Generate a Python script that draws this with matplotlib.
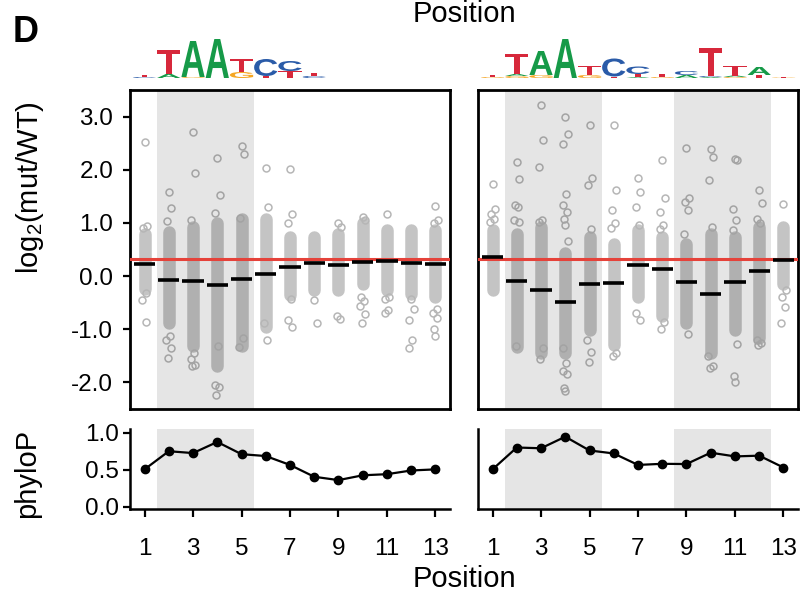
"""Mutation effect per position (top) with conservation (phyloP, bottom) for two motifs."""

import matplotlib
matplotlib.use("Agg")
from matplotlib import pyplot as plt
from matplotlib.font_manager import FontProperties
from matplotlib.patches import PathPatch
from matplotlib.textpath import TextPath
from matplotlib.transforms import Affine2D

# ---- data ---------------------------------------------------------------------
POSITIONS = list(range(1, 14))
XTICKS = [1, 3, 5, 7, 9, 11, 13]
RED_LINE = 0.33

# medians (black bars) of log2(mut/WT)
MED_L = [0.23, -0.08, -0.10, -0.16, -0.06, 0.04, 0.17, 0.24, 0.20, 0.26, 0.29, 0.24, 0.22]
MED_R = [0.36, -0.09, -0.26, -0.49, -0.14, -0.13, 0.21, 0.13, -0.11, -0.33, -0.12, 0.10, 0.30]

# dense part of each point cloud (low, high)
CORE_L = [(-0.25, 0.80), (-0.89, 0.83), (-1.32, 0.93), (-1.70, 0.99), (-1.32, 1.08),
          (-0.95, 1.08), (-0.36, 0.74), (-0.26, 0.74), (-0.26, 0.80), (-0.14, 0.99),
          (-0.26, 0.86), (-0.33, 0.86), (-0.39, 0.86)]
CORE_R = [(-0.26, 0.86), (-1.33, 0.80), (-1.45, 0.93), (-1.45, 0.43), (-1.01, 0.74),
          (-1.30, 0.61), (-0.39, 0.86), (-0.76, 0.74), (-0.89, 0.61), (-1.45, 0.80),
          (-1.01, 0.74), (-1.17, 0.93), (-0.14, 0.93)]

# single points outside the dense part
OUT_L = [
    [2.52, 0.95, 0.90, -0.32, -0.45, -0.86],
    [1.58, 1.28, 1.04, -1.12, -1.21, -1.36, -1.55],
    [2.71, 1.93, 1.05, -1.45, -1.56, -1.67, -1.70],
    [2.23, 1.53, 1.19, -1.32, -2.04, -2.08, -2.23],
    [2.44, 2.29, 1.09, -1.17, -1.34],
    [2.04, 1.30, -0.89, -1.21],
    [2.01, 1.16, 1.00, -0.44, -0.83, -0.96],
    [-0.45, -0.88],
    [0.99, 0.93, -0.76, -0.80],
    [1.11, 1.05, -0.40, -0.46, -0.56, -0.71, -0.88],
    [1.16, -0.39, -0.44, -0.64, -0.69],
    [-0.44, -0.61, -0.83, -1.21, -1.36],
    [1.31, 1.05, 1.00, -0.61, -0.69, -0.79, -1.00, -1.12],
]
OUT_R = [
    [1.74, 1.27, 1.16, 1.08, 1.02],
    [2.14, 1.82, 1.33, 1.30, 1.05, 1.02, -1.31],
    [3.22, 2.56, 2.06, 1.05, 1.02, -1.36, -1.56],
    [2.99, 2.68, 2.49, 1.55, 1.33, 1.21, 1.08, 0.96, 0.66, -1.36, -1.64, -1.79, -1.84, -2.11, -2.17],
    [2.85, 1.85, 1.71, 0.88, -1.20, -1.42, -1.61],
    [2.84, 1.61, 1.24, 1.00, 0.91, -1.45, -1.51],
    [1.84, 1.58, 1.29, 0.96, -0.70, -0.83],
    [2.18, 1.46, 1.21, 0.96, 0.88, -0.86, -1.00],
    [2.41, 1.46, 1.39, 1.25, 0.79, -1.08],
    [2.39, 2.24, 1.80, 0.93, -1.51, -1.70, -1.73],
    [2.21, 2.19, 1.27, 1.05, 0.86, -1.28, -1.88, -2.00],
    [1.61, 1.38, 1.08, 0.99, -1.20, -1.25, -1.30],
    [1.36, -0.26, -0.40, -0.59, -0.89],
]

PHYLO_L = [0.505, 0.75, 0.725, 0.875, 0.71, 0.685, 0.565, 0.405, 0.36, 0.425, 0.44, 0.49, 0.505]
PHYLO_R = [0.505, 0.80, 0.79, 0.946, 0.76, 0.72, 0.565, 0.58, 0.577, 0.73, 0.68, 0.69, 0.53]

SHADE_L = [(1.5, 5.5)]
SHADE_R = [(1.5, 5.5), (8.5, 12.5)]

# sequence logos: per position, letters stacked bottom -> top with their heights
LOGO_L = [
    [("C", 1.0), ("T", 2.0)],
    [("A", 4.0), ("T", 24.0)],
    [("G", 1.0), ("A", 36.0)],
    [("A", 39.0)],
    [("G", 6.0), ("T", 13.0)],
    [("T", 2.0), ("C", 17.0)],
    [("T", 7.0), ("C", 10.0)],
    [("C", 2.0), ("T", 3.0)],
]
LOGO_R = [
    [("G", 1.0), ("T", 2.0)],
    [("G", 2.0), ("A", 2.0), ("T", 20.0)],
    [("G", 3.0), ("A", 24.0)],
    [("A", 39.0)],
    [("G", 3.0), ("T", 9.0)],
    [("T", 1.5), ("C", 18.0)],
    [("A", 1.0), ("T", 3.0), ("C", 7.5)],
    [("G", 1.0), ("T", 3.0)],
    [("A", 3.0), ("C", 4.0)],
    [("A", 1.0), ("C", 1.0), ("T", 28.0)],
    [("G", 1.0), ("A", 1.5), ("T", 10.0)],
    [("T", 3.0), ("A", 8.0)],
    [("G", 0.5), ("T", 0.5)],
]

# ---- styling --------------------------------------------------------------------
W, H = 802, 594
CORE_GREY = "#c4c4c4"
POINT_GREY = "#b6b6b6"
RED = "#e5423a"
LOGO_COLOURS = {"A": "#169a48", "C": "#2a5ba8", "G": "#f5a623", "T": "#d7283b"}
LOGO_FONT = FontProperties(family="Liberation Sans", weight="bold")
JIT = (0.0, 0.1, -0.08, 0.05, -0.1, 0.08, -0.04)
TICK_SIZE = 17.5

plt.rcParams["font.family"] = ["Liberation Sans", "DejaVu Sans"]
plt.rcParams["mathtext.fontset"] = "custom"
plt.rcParams["mathtext.rm"] = "Liberation Sans"
plt.rcParams["mathtext.it"] = "Liberation Sans:italic"


def box(x0, y0, x1, y1):
    """Pixel box (top-left origin) -> figure fraction rect."""
    return [x0 / W, 1 - y1 / H, (x1 - x0) / W, (y1 - y0) / H]


def draw_letter(ax, letter, x, y0, h):
    tp = TextPath((0, 0), letter, size=1, prop=LOGO_FONT)
    bb = tp.get_extents()
    t = Affine2D().translate(-bb.x0, -bb.y0).scale(0.96 / bb.width, h / bb.height).translate(x - 0.48, y0)
    ax.add_patch(PathPatch(t.transform_path(tp), facecolor=LOGO_COLOURS[letter], lw=0))


fig = plt.figure(figsize=(W / 100, H / 100), dpi=100)

panels = [
    (130, 450, MED_L, CORE_L, OUT_L, PHYLO_L, SHADE_L, LOGO_L),
    (478, 798, MED_R, CORE_R, OUT_R, PHYLO_R, SHADE_R, LOGO_R),
]

for i, (x0, x1, med, core, out, phylo, shade, logo) in enumerate(panels):
    # Logo above the panel.
    lax = fig.add_axes(box(x0, 30, x1, 78))
    lax.set_xlim(0.4, 13.6)
    lax.set_ylim(0, 48)
    lax.axis("off")
    for p, stack in zip(POSITIONS, logo):
        base = 0.0
        for letter, h in stack:
            draw_letter(lax, letter, p, base, h)
            base += h

    # Top panel: per-position clouds of log2(mut/WT).
    ax = fig.add_axes(box(x0, 90, x1, 409))
    ax.set_xlim(0.4, 13.6)
    ax.set_ylim(-2.5, 3.5)
    for s in ax.spines.values():
        s.set_linewidth(2.0)
    for a, b in shade:
        ax.axvspan(a, b, color="black", alpha=0.1, lw=0, zorder=3)
    for p, (lo, hi), vals in zip(POSITIONS, core, out):
        ax.plot([p, p], [lo, hi], color=CORE_GREY, lw=9, solid_capstyle="round", zorder=2)
        xs = [p + JIT[k % len(JIT)] for k in range(len(vals))]
        ax.plot(xs, vals, "o", mfc="none", mec=POINT_GREY, ms=5.0, mew=1.1, zorder=2)
    ax.axhline(RED_LINE, color=RED, lw=2.2, zorder=4)
    ax.hlines(med, [p - 0.44 for p in POSITIONS], [p + 0.44 for p in POSITIONS],
              color="black", lw=2.6, zorder=5)
    ax.set_xticks([])
    if i == 0:
        ax.set_yticks([-2, -1, 0, 1, 2, 3])
        ax.set_yticklabels(["-2.0", "-1.0", "0.0", "1.0", "2.0", "3.0"])
        ax.tick_params(axis="y", length=5, width=1.6, labelsize=TICK_SIZE, pad=7)
    else:
        ax.set_yticks([])

    # Bottom panel: phyloP conservation.
    bx = fig.add_axes(box(x0, 429, x1, 509))
    bx.set_xlim(0.4, 13.6)
    bx.set_ylim(-0.03, 1.05)
    for a, b in shade:
        bx.axvspan(a, b, color="#e5e5e5", lw=0, zorder=0)
    bx.plot(POSITIONS, phylo, color="black", lw=1.6, marker="o", ms=6, zorder=3)
    bx.spines["top"].set_visible(False)
    bx.spines["right"].set_visible(False)
    bx.spines["left"].set_linewidth(1.8)
    bx.spines["bottom"].set_linewidth(1.8)
    bx.set_xticks(XTICKS)
    bx.tick_params(axis="x", length=6, width=1.6, labelsize=TICK_SIZE, pad=15)
    if i == 0:
        bx.set_yticks([0, 0.5, 1.0])
        bx.set_yticklabels(["0.0", "0.5", "1.0"])
        bx.tick_params(axis="y", length=5, width=1.6, labelsize=TICK_SIZE, pad=3)
    else:
        bx.set_yticks([])

fig.text(13 / W, 1 - 42 / H, "D", fontsize=26, fontweight="bold", va="baseline")
fig.text(464 / W, 1 - 22 / H, "Position", fontsize=21, ha="center", va="baseline")
fig.text(464 / W, 1 - 587 / H, "Position", fontsize=21, ha="center", va="baseline")
fig.text(30 / W, 1 - 188 / H, r"log$_2$(mut/WT)", fontsize=21, rotation=90, ha="center", va="center")
fig.text(27 / W, 1 - 473 / H, "phyloP", fontsize=21, rotation=90, ha="center", va="center")

fig.savefig("out.png", dpi=100)
